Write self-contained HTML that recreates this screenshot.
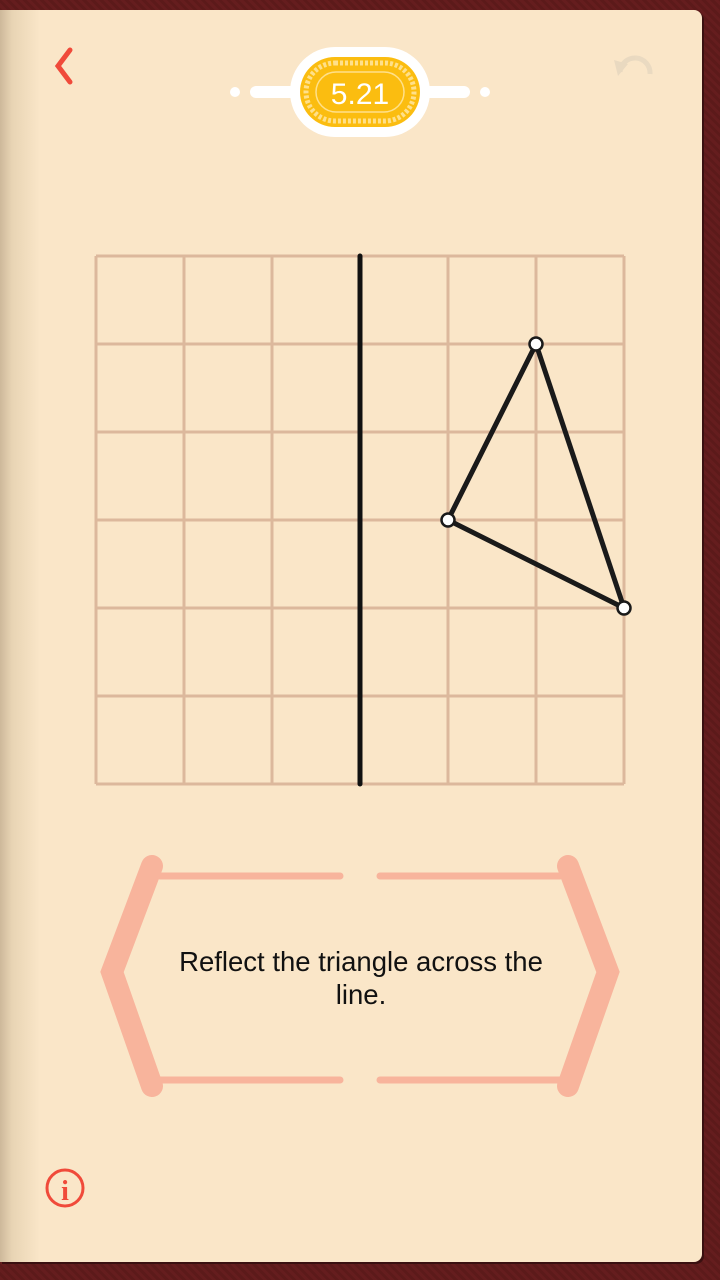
<!DOCTYPE html>
<html><head><meta charset="utf-8"><style>
html,body{margin:0;padding:0;width:720px;height:1280px;overflow:hidden;background:#5a1c1c;font-family:"Liberation Sans",sans-serif}
#frame{position:absolute;left:0;top:0;width:720px;height:1280px;background:repeating-linear-gradient(45deg,#651d1e 0 3px,#5c1a1a 3px 6px)}
#page{position:absolute;left:0;top:10px;width:702px;height:1252px;background:#fae6c8;border-radius:0 8px 8px 0;box-shadow:2px 2px 0 #3a1010}
#spine{position:absolute;left:0;top:10px;width:40px;height:1252px;background:linear-gradient(90deg,#cdb89a,#e8d4b4 30%,#fae6c8)}
</style></head><body>
<div id="frame"></div>
<div id="page"></div>
<div id="spine"></div>
<svg width="720" height="1280" style="position:absolute;left:0;top:0">
<path d="M70 50 L58 66 L70 82" stroke="#f04a3a" stroke-width="5" fill="none" stroke-linecap="round"/>
<g opacity="0.9"><path d="M620 72 A14 14 0 1 1 650 74" stroke="#e8d8c0" stroke-width="5" fill="none"/><path d="M614 60 L628 64 L618 76 Z" fill="#e8d8c0"/></g>
<g>
<circle cx="235" cy="92" r="5" fill="#fff"/><rect x="250" y="86" width="50" height="12" rx="6" fill="#fff"/>
<circle cx="485" cy="92" r="5" fill="#fff"/><rect x="420" y="86" width="50" height="12" rx="6" fill="#fff"/>
<rect x="290" y="47" width="140" height="90" rx="45" fill="#fff"/>
<rect x="300" y="57" width="120" height="70" rx="35" fill="#fbbd10"/>
<rect x="306" y="63" width="108" height="58" rx="29" fill="none" stroke="#ffe08a" stroke-width="5" stroke-dasharray="3 2"/>
<rect x="316" y="72" width="88" height="40" rx="20" fill="#fbbd10" stroke="#ffe08a" stroke-width="1.5"/>
<text x="360" y="104" text-anchor="middle" fill="#fff" font-size="30">5.21</text>
</g>
<g id="grid"></g>
<g id="tri"></g>
<g stroke="#f8b49c" stroke-linecap="round" fill="none">
<path d="M152 866 L112 972 L152 1086" stroke-width="22"/>
<path d="M568 866 L608 972 L568 1086" stroke-width="22"/>
<line x1="160" y1="876" x2="340" y2="876" stroke-width="7"/>
<line x1="380" y1="876" x2="560" y2="876" stroke-width="7"/>
<line x1="160" y1="1080" x2="340" y2="1080" stroke-width="7"/>
<line x1="380" y1="1080" x2="560" y2="1080" stroke-width="7"/>
</g>
<text x="361" y="971" text-anchor="middle" font-size="27.5" fill="#111"><tspan x="361">Reflect the triangle across the</tspan><tspan x="361" dy="33">line.</tspan></text>
<g><circle cx="65" cy="1188" r="18" fill="none" stroke="#f04a3a" stroke-width="3"/><text x="65" y="1200" text-anchor="middle" font-family="Liberation Serif" font-weight="bold" font-size="28" fill="#f04a3a">i</text></g>
</svg>
<script>
const gridCols=[0,1,2,3,4,5,6];
const mirrorX=3;
const triX=[5,4,6];
const triY=[1,3,4];
const NS="http://www.w3.org/2000/svg";
const x0=96,y0=256,cell=88;
const sx=c=>x0+c*cell, sy=r=>y0+r*cell;
const g=document.getElementById('grid');
gridCols.forEach(i=>{
 const v=document.createElementNS(NS,'line');
 v.setAttribute('x1',sx(i));v.setAttribute('x2',sx(i));v.setAttribute('y1',sy(0));v.setAttribute('y2',sy(6));
 v.setAttribute('stroke','#dcb89c');v.setAttribute('stroke-width','3');
 
 
 g.appendChild(v);
 const h=document.createElementNS(NS,'line');
 h.setAttribute('y1',sy(i));h.setAttribute('y2',sy(i));h.setAttribute('x1',sx(0));h.setAttribute('x2',sx(6));
 h.setAttribute('stroke','#dcb89c');h.setAttribute('stroke-width','3');
 
 
 g.appendChild(h);
});
const m=document.createElementNS(NS,'line');
m.setAttribute('x1',sx(mirrorX));m.setAttribute('x2',sx(mirrorX));m.setAttribute('y1',sy(0));m.setAttribute('y2',sy(6));
m.setAttribute('stroke','#111');m.setAttribute('stroke-width','5');m.setAttribute('stroke-linecap','round');


g.appendChild(m);
const t=document.getElementById('tri');
const p=document.createElementNS(NS,'polygon');
p.setAttribute('points',triX.map((x,i)=>sx(x)+','+sy(triY[i])).join(' '));
p.setAttribute('fill','none');p.setAttribute('stroke','#1a1a1a');p.setAttribute('stroke-width','5');p.setAttribute('stroke-linejoin','round');


t.appendChild(p);
triX.forEach((x,i)=>{
 const c=document.createElementNS(NS,'circle');
 c.setAttribute('cx',sx(x));c.setAttribute('cy',sy(triY[i]));c.setAttribute('r','6.5');
 c.setAttribute('fill','#fff');c.setAttribute('stroke','#1a1a1a');c.setAttribute('stroke-width','2.5');
 
 
 t.appendChild(c);
});
</script>
</body></html>
